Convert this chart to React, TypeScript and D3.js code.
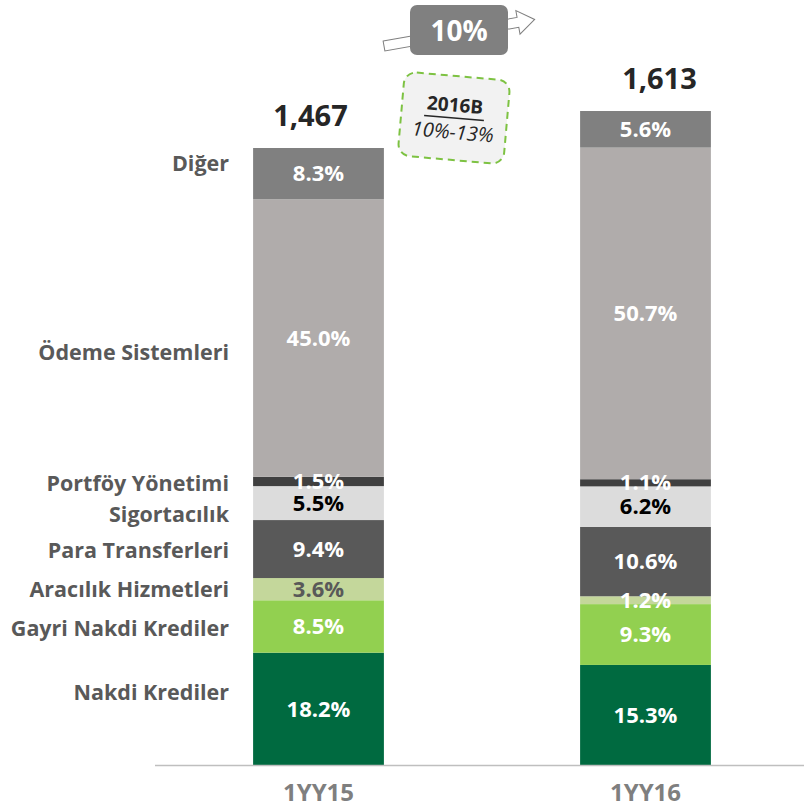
import * as d3 from 'd3'
import React from 'react'

// categories / series
const periods = ['1YY15', '1YY16']
const totals = [1467, 1613]
const totalLabels = ['1,467', '1,613']
// bottom to top
const segments = [
    'Nakdi Krediler',
    'Gayri Nakdi Krediler',
    'Aracılık Hizmetleri',
    'Para Transferleri',
    'Sigortacılık',
    'Portföy Yönetimi',
    'Ödeme Sistemleri',
    'Diğer',
]
const share15 = [18.2, 8.5, 3.6, 9.4, 5.5, 1.5, 45.0, 8.3]
const share16 = [15.3, 9.3, 1.2, 10.6, 6.2, 1.1, 50.7, 5.6]
const growthLabel = '10%'
const budgetTitle = '2016B'
const budgetRange = '10%-13%'

const segColors = ['#006A40', '#92D050', '#C4D79B', '#595959', '#DCDCDC', '#404040', '#B0ACAB', '#808080']
const labelColors15 = ['#fff', '#fff', '#595959', '#fff', '#000', '#fff', '#fff', '#fff']
const labelColors16 = ['#fff', '#fff', '#fff', '#fff', '#000', '#fff', '#fff', '#fff']
// left legend label y positions (aligned to the first bar)
const legendY = [692, 628, 589, 550, 514, 483, 352, 163]
// total labels were hand placed in the original, a bit off the bar centre
const totalDx = [-8, 14]

const W = 804
const H = 809
const baseline = 765
const font = "'Open Sans', sans-serif"

export default function App() {
    const x = d3.scaleBand<string>().domain(periods).range([155, 809]).paddingInner(0.6).paddingOuter(0.3)
    // value axis does not start at zero in the original
    const y = d3.scaleLinear().domain([1467, 1613]).range([148, 111])
    const shares = [share15, share16]
    const labelColors = [labelColors15, labelColors16]

    return (
        <svg width={W} height={H} style={{ position: 'absolute', left: 0, top: 0 }} fontFamily={font}>
            <rect width={W} height={H} fill="#fff" />
            {periods.map((p, i) => {
                const x0 = x(p) as number
                const bw = x.bandwidth()
                const barH = baseline - y(totals[i])
                const s = shares[i]
                const cum = d3.cumsum(s)
                return (
                    <g key={p}>
                        {s.map((v, j) => {
                            const yTop = baseline - (cum[j] / 100) * barH
                            const yBot = baseline - ((cum[j] - v) / 100) * barH
                            return (
                                <rect key={j} x={x0} y={yTop} width={bw} height={yBot - yTop} fill={segColors[j]} />
                            )
                        })}
                        {s.map((v, j) => {
                            const yMid = baseline - ((cum[j] - v / 2) / 100) * barH
                            return (
                                <text
                                    key={'t' + j}
                                    x={x0 + bw / 2}
                                    y={yMid}
                                    dy="0.35em"
                                    textAnchor="middle"
                                    fontSize={22}
                                    fontWeight="bold"
                                    fill={labelColors[i][j]}
                                >
                                    {v.toFixed(1)}%
                                </text>
                            )
                        })}
                        <text
                            x={x0 + bw / 2 + totalDx[i]}
                            y={y(totals[i]) - 32}
                            dy="0.35em"
                            textAnchor="middle"
                            fontSize={29}
                            fontWeight="bold"
                            fill="#262626"
                        >
                            {totalLabels[i]}
                        </text>
                        <text
                            x={x0 + bw / 2}
                            y={793}
                            dy="0.35em"
                            textAnchor="middle"
                            fontSize={24}
                            fontWeight="bold"
                            fill="#7F7F7F"
                        >
                            {p}
                        </text>
                    </g>
                )
            })}
            <line x1={155} x2={W} y1={baseline + 0.5} y2={baseline + 0.5} stroke="#BFBFBF" strokeWidth={1.5} />
            {segments.map((s, j) => (
                <text
                    key={s}
                    x={229}
                    y={legendY[j]}
                    dy="0.35em"
                    textAnchor="end"
                    fontSize={21.5}
                    fontWeight="bold"
                    fill="#595959"
                >
                    {s}
                </text>
            ))}
            {/* growth arrow */}
            <g transform="translate(384,46) rotate(-10)">
                <path
                    d="M0,-5 L136,-5 L136,-12 L153,0 L136,12 L136,5 L0,5 Z"
                    fill="#fff"
                    stroke="#7F7F7F"
                    strokeWidth={1}
                />
            </g>
            <rect x={410} y={5} width={98} height={50} rx={7} fill="#808080" />
            <text x={459} y={31} dy="0.35em" textAnchor="middle" fontSize={28} fontWeight="bold" fill="#fff">
                {growthLabel}
            </text>
            {/* budget box */}
            <g transform="translate(454,118) rotate(5)">
                <rect
                    x={-53}
                    y={-42}
                    width={106}
                    height={84}
                    rx={12}
                    fill="#F2F2F2"
                    stroke="#7DC242"
                    strokeWidth={2}
                    strokeDasharray="7,5"
                />
                <text x={0} y={-13} dy="0.35em" textAnchor="middle" fontSize={19} fontWeight="bold" fill="#262626">
                    {budgetTitle}
                </text>
                <line x1={-30} x2={30} y1={0} y2={0} stroke="#262626" strokeWidth={1.5} />
                <text x={0} y={14} dy="0.35em" textAnchor="middle" fontSize={20} fontStyle="italic" fill="#262626">
                    {budgetRange}
                </text>
            </g>
        </svg>
    )
}
